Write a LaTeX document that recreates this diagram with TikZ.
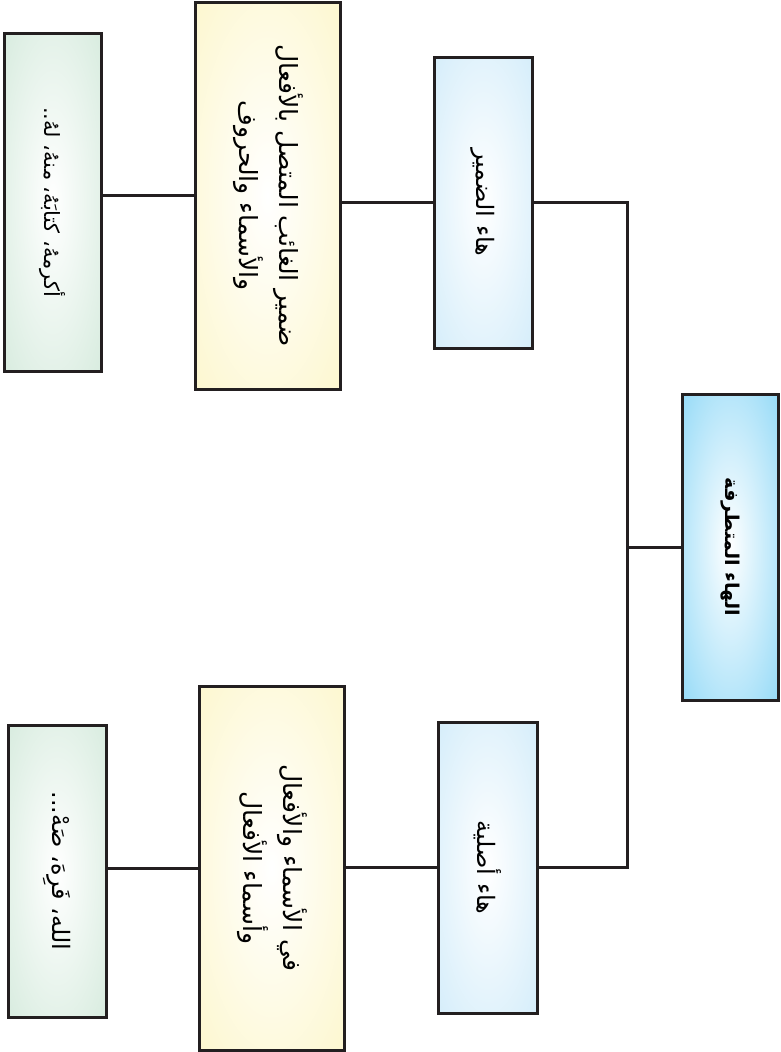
\documentclass[tikz,border=0pt]{standalone}
\usepackage{fontspec}
\usepackage{graphicx}
\newfontfamily\arabicfont[Script=Arabic]{DejaVu Sans}
\TeXXeTstate=1

\definecolor{linegray}{HTML}{231F20}
\definecolor{rootblue}{HTML}{6CCCF4}
\definecolor{midblue}{HTML}{C4E6F8}
\definecolor{paleyellow}{HTML}{FCF4BC}
\definecolor{palegreen}{HTML}{C8E4D2}

% shadings: white centre, coloured edges
\pgfdeclareradialshading{rootfill}{\pgfpointorigin}{color(0bp)=(white); color(50bp)=(rootblue)}
\pgfdeclareradialshading{midfill}{\pgfpointorigin}{color(0bp)=(white); color(50bp)=(midblue)}
\pgfdeclareradialshading{rulefill}{\pgfpointorigin}{color(0bp)=(white); color(50bp)=(paleyellow)}
\pgfdeclareradialshading{examplefill}{\pgfpointorigin}{color(0bp)=(white); color(50bp)=(palegreen)}

% turned Arabic text, one or two lines
\newcommand{\arone}[1]{\rotatebox{-90}{\arabicfont #1}}
\newcommand{\artwo}[2]{\rotatebox{-90}{\arabicfont\begin{tabular}{@{}c@{}}#1\\ #2\end{tabular}}}

\begin{document}
\begin{tikzpicture}[
    x=1pt, y=-1pt,
    box/.style={draw=linegray, line width=3pt, shade, inner sep=0pt, outer sep=0pt,
        font=\fontsize{24}{40}\selectfont},
    rootbox/.style={box, shading=rootfill, font=\fontsize{19}{40}\selectfont\bfseries},
    midbox/.style={box, shading=midfill},
    rulebox/.style={box, shading=rulefill},
    examplebox/.style={box, shading=examplefill},
    link/.style={draw=linegray, line width=3pt}
]
    \useasboundingbox (0,0) rectangle (780,1052);

    % Root
    \node[rootbox, minimum width=96pt, minimum height=306pt] (root) at (730,547)
        {\arone{\beginR الهاء المتطرفة\endR}};

    % Kinds
    \node[midbox, minimum width=98pt, minimum height=291pt] (dmir) at (483,202.5)
        {\arone{\beginR هاء الضمير\endR}};
    \node[midbox, minimum width=99pt, minimum height=291pt] (asli) at (487.5,867.5)
        {\arone{\beginR هاء أصلية\endR}};

    % Where they come
    \node[rulebox, minimum width=145pt, minimum height=387pt, font=\fontsize{25}{40}\selectfont] (ghaib) at (267.5,195.5)
        {\artwo{\beginR ضمير الغائب المتصل بالأفعال\endR}{\beginR والأسماء والحروف\endR}};
    \node[rulebox, minimum width=145pt, minimum height=364pt, font=\fontsize{25}{40}\selectfont] (asma) at (271.5,868)
        {\artwo{\beginR في الأسماء والأفعال\endR}{\beginR وأسماء الأفعال\endR}};

    % Examples
    \node[examplebox, minimum width=97pt, minimum height=338pt, font=\fontsize{21}{40}\selectfont] (exdmir) at (52.5,202)
        {\arone{\beginR أكرمهُ، كتابَهُ، منهُ، لهُ..\endR}};
    \node[examplebox, minimum width=98pt, minimum height=292pt] (exasli) at (57,871)
        {\arone{\beginR الله، فَرِهَ، صَهْ...\endR}};

    % Links
    \coordinate (fork) at (627,547);
    \draw[link] (root.west) -- (fork);
    \draw[link] (dmir.east) -| (fork) |- (asli.east);
    \draw[link] (dmir.west) -- (dmir.west -| ghaib.east);
    \draw[link] (ghaib.west) -- (ghaib.west -| exdmir.east);
    \draw[link] (asli.west) -- (asli.west -| asma.east);
    \draw[link] (asma.west) -- (asma.west -| exasli.east);

\end{tikzpicture}
\end{document}
